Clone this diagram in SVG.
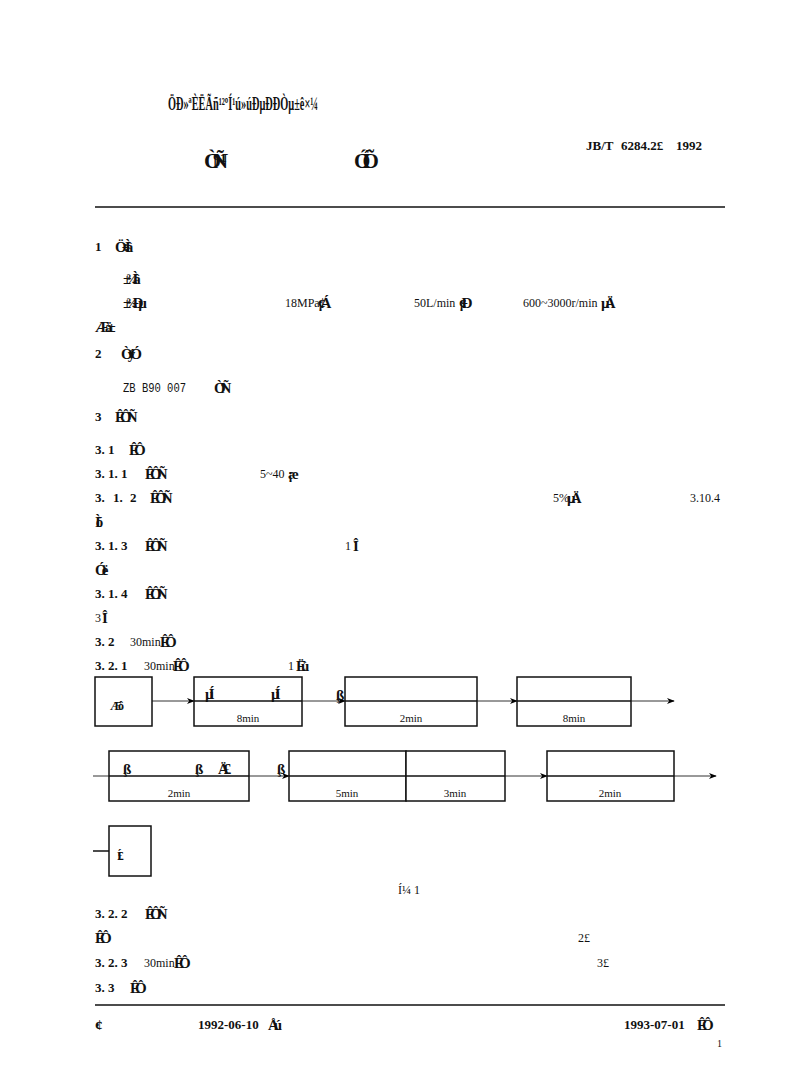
<svg xmlns="http://www.w3.org/2000/svg" width="800" height="1091" viewBox="0 0 800 1091">
<defs>
<marker id="ah" viewBox="0 0 10 10" refX="9" refY="5" markerWidth="8" markerHeight="8" orient="auto" markerUnits="userSpaceOnUse"><path d="M0,1 L10,5 L0,9 L3,5 Z" fill="#000"/></marker>
</defs>
<style>
text{font-family:"Liberation Serif","Times New Roman",serif;fill:#111}
.n{font-size:13px;font-weight:bold}
.t{font-size:12px}
.m{font-family:"Liberation Mono","Courier New",monospace;font-size:12px}
.tb{font-size:13px;font-weight:bold}
.b{font-size:15px;font-weight:bold;letter-spacing:-5px}
.bs{font-size:12px;font-weight:bold;letter-spacing:-4px}
.bx{fill:#fff;stroke:#111;stroke-width:1.5}
.ml{stroke:#111;stroke-width:1.5}
.ar{stroke:#333;stroke-width:1;fill:none}
.rule{stroke:#111;stroke-width:1.6}
.lbl{font-size:11px;text-anchor:middle}
</style>
<rect width="800" height="1091" fill="#fff"/>
<g id="header">
<text x="168" y="110" style="font-size:18px;font-weight:bold" textLength="150" lengthAdjust="spacingAndGlyphs">ÖÐ»ªÈËÃñ¹²ºÍ¹ú»úÐµÐÐÒµ±ê×¼</text>
<text x="204" y="168" style="font-size:22px;font-weight:bold;letter-spacing:-8px">ÒºÑ¹</text>
<text x="354" y="168" style="font-size:21px;font-weight:bold;letter-spacing:-8px">ÓÍÕ</text>
<text x="586" y="150" class="tb">JB/T</text><text x="621" y="150" class="tb">6284.2£</text><text x="676" y="150" class="tb">1992</text>
<line x1="95" y1="207" x2="725" y2="207" class="rule"/>
</g>
<g id="body">
<text x="95" y="251" class="n">1</text><text x="115" y="252" class="b">Ö÷Ìâ</text>
<text x="123" y="284" class="b">±¾Ìâ</text>
<text x="123" y="308" class="b">±¾Ðµ</text>
<text x="285" y="307" class="t">18MPa</text><text x="318" y="308" class="b">¡¢Á</text>
<text x="414" y="307" class="t">50L/min</text><text x="459" y="308" class="b">¡¢Ð</text>
<text x="523" y="307" class="t">600~3000r/min</text><text x="601" y="308" class="b">µÄ</text>
<text x="95" y="332" class="b">Æä±</text>
<text x="95" y="358" class="n">2</text><text x="121" y="359" class="b">ÒýÓ</text>
<text x="123" y="392" class="m" textLength="63" lengthAdjust="spacingAndGlyphs">ZB B90 007</text><text x="214" y="393" class="b">ÒºÑ</text>
<text x="95" y="421" class="n">3</text><text x="115" y="422" class="b">ÊÔÑ</text>
<text x="95" y="454" class="n">3. 1</text><text x="129" y="455" class="b">ÊÔ</text>
<text x="95" y="478" class="n">3. 1. 1</text><text x="145" y="479" class="b">ÊÔÑ</text>
<text x="260" y="478" class="t">5~40</text><text x="288" y="479" class="b">¡æ</text>
<text x="95" y="502" class="n">3.</text><text x="113" y="502" class="n">1.</text><text x="130" y="502" class="n">2</text><text x="150" y="503" class="b">ÊÔÑ</text>
<text x="553" y="502" class="t">5%</text><text x="567" y="503" class="b">µÄ</text>
<text x="690" y="502" class="t">3.10.4</text>
<text x="95" y="527" class="b">Ìõ</text>
<text x="95" y="550" class="n">3. 1. 3</text><text x="145" y="551" class="b">ÊÔÑ</text>
<text x="345" y="550" class="t">1</text><text x="353" y="551" class="b">´Î</text>
<text x="95" y="575" class="b">Óë</text>
<text x="95" y="598" class="n">3. 1. 4</text><text x="145" y="599" class="b">ÊÔÑ</text>
<text x="95" y="622" class="t">3</text><text x="102" y="623" class="b">´Î</text>
<text x="95" y="646" class="n">3. 2</text><text x="130" y="646" class="t">30min</text><text x="160" y="647" class="b">ÊÔ</text>
<text x="95" y="670" class="n">3. 2. 1</text><text x="144" y="670" class="t">30min</text><text x="173" y="671" class="b">ÊÔ</text>
<text x="288" y="670" class="t">1</text><text x="296" y="671" class="b">Ëù</text>
</g>
<g id="connectors">
<line x1="152" y1="701" x2="194" y2="701" class="ar" marker-end="url(#ah)"/>
<line x1="302" y1="701" x2="345" y2="701" class="ar" marker-end="url(#ah)"/>
<line x1="477" y1="701" x2="517" y2="701" class="ar" marker-end="url(#ah)"/>
<line x1="631" y1="701" x2="674" y2="701" class="ar" marker-end="url(#ah)"/>
<line x1="93" y1="776" x2="109" y2="776" class="ar"/>
<line x1="249" y1="776" x2="289" y2="776" class="ar" marker-end="url(#ah)"/>
<line x1="505" y1="776" x2="547" y2="776" class="ar" marker-end="url(#ah)"/>
<line x1="674" y1="776" x2="716" y2="776" class="ar" marker-end="url(#ah)"/>
<line x1="93" y1="851" x2="109" y2="851" class="ml"/>
</g>
<g id="n1"><rect x="95" y="677" width="57" height="49" class="bx"/><text x="110" y="710" class="bs">Æô</text></g>
<g id="n2"><rect x="194" y="677" width="108" height="49" class="bx"/><line x1="194" y1="701" x2="302" y2="701" class="ml"/>
<text x="205" y="699" class="b">µÍ</text><text x="271" y="699" class="b">µÍ</text><text x="248" y="722" class="lbl">8min</text></g>
<text x="336" y="700" class="b">¸ß</text>
<g id="n3"><rect x="345" y="677" width="132" height="49" class="bx"/><line x1="345" y1="701" x2="477" y2="701" class="ml"/><text x="411" y="722" class="lbl">2min</text></g>
<g id="n4"><rect x="517" y="677" width="114" height="49" class="bx"/><line x1="517" y1="701" x2="631" y2="701" class="ml"/><text x="574" y="722" class="lbl">8min</text></g>
<g id="n5"><rect x="109" y="751" width="140" height="50" class="bx"/><line x1="109" y1="776" x2="249" y2="776" class="ml"/>
<text x="123" y="774" class="b">¸ß</text><text x="195" y="774" class="b">¸ß</text><text x="218" y="774" class="b">Ä£</text>
<text x="179" y="797" class="lbl">2min</text></g>
<text x="277" y="774" class="b">¸ß</text>
<g id="n6"><rect x="289" y="751" width="117" height="50" class="bx"/><line x1="289" y1="776" x2="406" y2="776" class="ml"/><text x="347" y="797" class="lbl">5min</text></g>
<g id="n7"><rect x="406" y="751" width="99" height="50" class="bx"/><line x1="406" y1="776" x2="505" y2="776" class="ml"/><text x="455" y="797" class="lbl">3min</text></g>
<g id="n8"><rect x="547" y="751" width="127" height="50" class="bx"/><line x1="547" y1="776" x2="674" y2="776" class="ml"/><text x="610" y="797" class="lbl">2min</text></g>
<g id="n9"><rect x="109" y="826" width="42" height="50" class="bx"/><text x="117" y="860" class="bs">Í£</text></g>
<g id="footer">
<text x="398" y="894" class="t">Í¼</text><text x="414" y="894" class="t">1</text>
<text x="95" y="918" class="n">3. 2. 2</text><text x="145" y="919" class="b">ÊÔÑ</text>
<text x="95" y="943" class="b">ÊÔ</text><text x="578" y="942" class="t">2£</text>
<text x="95" y="967" class="n">3. 2. 3</text><text x="144" y="967" class="t">30min</text><text x="174" y="968" class="b">ÊÔ</text>
<text x="597" y="967" class="t">3£</text>
<text x="95" y="992" class="n">3. 3</text><text x="130" y="993" class="b">ÊÔ</text>
<line x1="95" y1="1005" x2="725" y2="1005" class="rule"/>
<text x="95" y="1030" class="b">·¢</text>
<text x="198" y="1029" class="tb">1992-06-10</text><text x="268" y="1030" class="b">Åú</text>
<text x="624" y="1029" class="tb">1993-07-01</text><text x="697" y="1030" class="b">ÊÔ</text>
<text x="717" y="1047" style="font-size:10px">1</text>
</g>
</svg>
